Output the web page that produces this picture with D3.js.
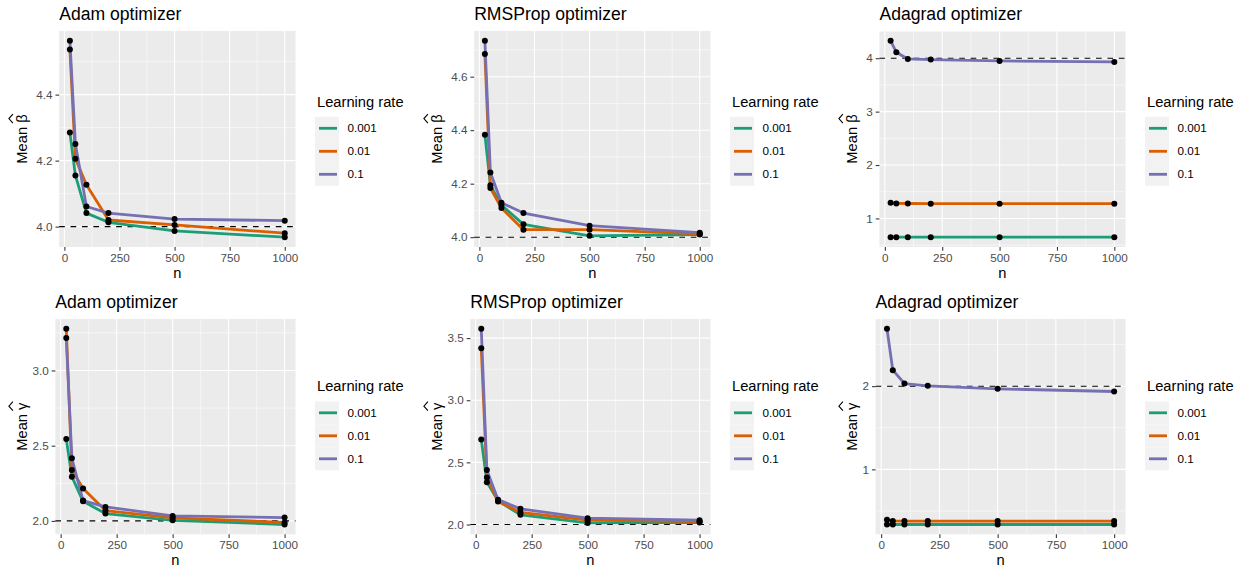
<!DOCTYPE html>
<html lang="en">
<head>
<meta charset="UTF-8" />
<title>Mean estimates by optimizer and learning rate</title>
<script src="https://cdn.jsdelivr.net/npm/d3@7"></script>
<style>
  body { margin: 0; background: #fff; }
  text { font-family: "Liberation Sans", Arial, Helvetica, sans-serif; }
  .panel-bg { fill: #ebebeb; }
  .grid-major { stroke: #fff; stroke-width: 1.07px; }
  .grid-minor { stroke: #fff; stroke-width: 0.53px; }
  .tick line { stroke: #333; stroke-width: 1.07px; }
  .tick text { fill: #4d4d4d; font-size: 11.7px; }
  .truth-line { stroke: #000; stroke-width: 1.07px; stroke-dasharray: 5.7,5.7; }
  .rate-line { fill: none; stroke-width: 2.8px; stroke-linejoin: round; }
  .dot { fill: #000; }
  .plot-title { font-size: 17.6px; fill: #000; }
  .axis-title { font-size: 14.7px; fill: #000; }
  .legend-title { font-size: 14.7px; fill: #000; }
  .legend-label { font-size: 11.7px; fill: #000; }
</style>
</head>
<body>
<script>

// Data...

var nValues = [25, 50, 100, 200, 500, 1000];
var learningRates = ["0.001", "0.01", "0.1"];
var rateColours = ["#1b9e77", "#d95f02", "#7570b3"];

var optimizers = ["Adam optimizer", "RMSProp optimizer", "Adagrad optimizer"];
var paramSymbols = ["\u03b2", "\u03b3"];
var trueValues = [4, 2];

// rows = learning rate (0.001, 0.01, 0.1), columns = n
var adamBeta = [
  [4.285, 4.155, 4.041, 4.013, 3.987, 3.968],
  [4.537, 4.206, 4.127, 4.020, 4.005, 3.980],
  [4.563, 4.250, 4.061, 4.041, 4.023, 4.018]
];
var rmspropBeta = [
  [4.383, 4.194, 4.120, 4.048, 4.005, 4.010],
  [4.685, 4.184, 4.109, 4.028, 4.028, 4.012],
  [4.734, 4.242, 4.129, 4.090, 4.043, 4.017]
];
var adagradBeta = [
  [0.649, 0.649, 0.649, 0.649, 0.649, 0.649],
  [1.294, 1.282, 1.280, 1.276, 1.276, 1.276],
  [4.326, 4.113, 3.987, 3.975, 3.950, 3.930]
];
var adamGamma = [
  [2.544, 2.294, 2.130, 2.049, 2.004, 1.976],
  [3.277, 2.338, 2.216, 2.069, 2.020, 1.990],
  [3.215, 2.416, 2.135, 2.093, 2.033, 2.022]
];
var rmspropGamma = [
  [2.685, 2.341, 2.190, 2.078, 2.013, 2.016],
  [3.419, 2.379, 2.185, 2.097, 2.035, 2.024],
  [3.575, 2.438, 2.200, 2.126, 2.051, 2.035]
];
var adagradGamma = [
  [0.337, 0.337, 0.337, 0.337, 0.337, 0.337],
  [0.394, 0.380, 0.378, 0.378, 0.378, 0.378],
  [2.690, 2.193, 2.032, 2.004, 1.968, 1.936]
];

// Tick labels
var xTicks = ["0", "250", "500", "750", "1000"];
var adamBetaTicks = ["4.0", "4.2", "4.4"];
var rmspropBetaTicks = ["4.0", "4.2", "4.4", "4.6"];
var adagradBetaTicks = ["1", "2", "3", "4"];
var adamGammaTicks = ["2.0", "2.5", "3.0"];
var rmspropGammaTicks = ["2.0", "2.5", "3.0", "3.5"];
var adagradGammaTicks = ["1", "2"];

// Panel table built from the arrays above (row = parameter, col = optimizer)
var panelValues = [[adamBeta, rmspropBeta, adagradBeta], [adamGamma, rmspropGamma, adagradGamma]];
var panelTicks = [[adamBetaTicks, rmspropBetaTicks, adagradBetaTicks],
                  [adamGammaTicks, rmspropGammaTicks, adagradGammaTicks]];


// Layout...

var w = 1245, h = 569;
var colWidth = 415;
var rowOrigin = [0, 284.5];
var plotTop = [31, 319];
var plotBottom = [247, 534.3];
var titleSpace = [36.3, 32.5];   // room taken by the rotated y title
var tickLen = 3.67, labelGap = 2.93;

var svg = d3.select("body").append("svg")
  .attr("width", w)
  .attr("height", h);

// measure tick label width, used to place the panel's left edge
function textWidth(str) {
  var t = svg.append("g").attr("class", "tick").append("text").text(str);
  var wd = t.node().getComputedTextLength();
  t.node().parentNode.remove();
  return wd;
}

function measure(str, size) {
  var t = svg.append("text").style("font-size", size + "px").text(str);
  var wd = t.node().getComputedTextLength();
  t.remove();
  return wd;
}


// Draw each panel
for (var row = 0; row < 2; row++) {
  for (var col = 0; col < 3; col++) {
    drawPanel(row, col);
  }
}

function drawPanel(row, col) {
  var series = panelValues[row][col];
  var ticks = panelTicks[row][col];
  var truth = trueValues[row];
  var ox = col * colWidth;

  var maxLabel = d3.max(ticks, function(s) { return textWidth(s); });
  var left = ox + titleSpace[row] + maxLabel + tickLen + labelGap;
  var right = ox + 295.5;
  var top = plotTop[row], bottom = plotBottom[row];

  // scales with ggplot-style 5% expansion
  var nExt = d3.extent(nValues);
  var nPad = (nExt[1] - nExt[0]) * 0.05;
  var xScale = d3.scaleLinear()
    .domain([nExt[0] - nPad, nExt[1] + nPad])
    .range([left, right]);

  var allVals = d3.merge(series).concat([truth]);
  var yExt = d3.extent(allVals);
  var yPad = (yExt[1] - yExt[0]) * 0.05;
  var yScale = d3.scaleLinear()
    .domain([yExt[0] - yPad, yExt[1] + yPad])
    .range([bottom, top]);

  var g = svg.append("g");

  g.append("rect")
    .attr("class", "panel-bg")
    .attr("x", left).attr("y", top)
    .attr("width", right - left).attr("height", bottom - top);

  // minor grid (midpoints of major breaks, extended one step each side)
  var yMajor = ticks.map(Number);
  var xMajor = xTicks.map(Number);
  function minors(major, domain) {
    var step = major[1] - major[0];
    var out = [];
    for (var v = major[0] - step / 2; v <= major[major.length - 1] + step; v += step) {
      if (v >= domain[0] && v <= domain[1]) out.push(v);
    }
    return out;
  }

  g.selectAll(".gy-minor")
    .data(minors(yMajor, yScale.domain()))
    .enter().append("line")
    .attr("class", "grid-minor")
    .attr("x1", left).attr("x2", right)
    .attr("y1", function(d) { return yScale(d); })
    .attr("y2", function(d) { return yScale(d); });

  g.selectAll(".gx-minor")
    .data(minors(xMajor, xScale.domain()))
    .enter().append("line")
    .attr("class", "grid-minor")
    .attr("y1", top).attr("y2", bottom)
    .attr("x1", function(d) { return xScale(d); })
    .attr("x2", function(d) { return xScale(d); });

  g.selectAll(".gy-major")
    .data(yMajor)
    .enter().append("line")
    .attr("class", "grid-major")
    .attr("x1", left).attr("x2", right)
    .attr("y1", function(d) { return yScale(d); })
    .attr("y2", function(d) { return yScale(d); });

  g.selectAll(".gx-major")
    .data(xMajor)
    .enter().append("line")
    .attr("class", "grid-major")
    .attr("y1", top).attr("y2", bottom)
    .attr("x1", function(d) { return xScale(d); })
    .attr("x2", function(d) { return xScale(d); });

  // axes
  var xAxis = d3.axisBottom(xScale)
    .tickValues(xMajor)
    .tickFormat(function(d, i) { return xTicks[i]; })
    .tickSizeInner(tickLen).tickSizeOuter(0).tickPadding(labelGap);

  var yAxis = d3.axisLeft(yScale)
    .tickValues(yMajor)
    .tickFormat(function(d, i) { return ticks[i]; })
    .tickSizeInner(tickLen).tickSizeOuter(0).tickPadding(labelGap);

  var xg = g.append("g").attr("transform", "translate(0," + bottom + ")").call(xAxis);
  var yg = g.append("g").attr("transform", "translate(" + left + ",0)").call(yAxis);
  xg.select(".domain").remove();
  yg.select(".domain").remove();
  xg.attr("font-family", null).attr("font-size", null);
  yg.attr("font-family", null).attr("font-size", null);

  // true value, dashed
  g.append("line")
    .attr("class", "truth-line")
    .attr("x1", left).attr("x2", right)
    .attr("y1", yScale(truth)).attr("y2", yScale(truth));

  // lines per learning rate
  var line = d3.line()
    .x(function(d, i) { return xScale(nValues[i]); })
    .y(function(d) { return yScale(d); });

  g.selectAll(".rate-line")
    .data(series)
    .enter().append("path")
    .attr("class", "rate-line")
    .attr("stroke", function(d, i) { return rateColours[i]; })
    .attr("d", line);

  // points on top
  series.forEach(function(vals) {
    g.selectAll(null)
      .data(vals)
      .enter().append("circle")
      .attr("class", "dot")
      .attr("cx", function(d, i) { return xScale(nValues[i]); })
      .attr("cy", function(d) { return yScale(d); })
      .attr("r", 3);
  });

  // title
  g.append("text")
    .attr("class", "plot-title")
    .attr("x", left)
    .attr("y", top - 10.8)
    .text(optimizers[col]);

  // x title
  g.append("text")
    .attr("class", "axis-title")
    .attr("text-anchor", "middle")
    .attr("x", (left + right) / 2)
    .attr("y", bottom + 30.5)
    .text("n");

  // y title with hat over the symbol
  var sym = paramSymbols[row];
  var yt = g.append("g")
    .attr("transform", "translate(" + (ox + 26.7) + "," + ((top + bottom) / 2) + ") rotate(-90)");
  yt.append("text")
    .attr("class", "axis-title")
    .attr("text-anchor", "middle")
    .text("Mean  " + sym);
  var full = measure("Mean  " + sym, 14.7);
  var symW = measure(sym, 14.7);
  var hx = full / 2 - symW / 2;
  yt.append("path")
    .attr("d", "M" + (hx - 4.5) + "," + (-13.8) + "L" + hx + "," + (-17.8) + "L" + (hx + 4.5) + "," + (-13.8))
    .attr("fill", "none")
    .attr("stroke", "#000")
    .attr("stroke-width", 1.1);

  // legend
  var lx = ox + 316;
  var ly = rowOrigin[row];
  var lg = g.append("g");
  lg.append("text")
    .attr("class", "legend-title")
    .attr("x", lx + 1)
    .attr("y", ly + 106.5)
    .text("Learning rate");

  learningRates.forEach(function(rate, i) {
    var ky = ly + 116.8 + i * 23;
    lg.append("rect")
      .attr("x", lx - 1).attr("y", ky)
      .attr("width", 24).attr("height", 23)
      .attr("fill", "#f2f2f2");
    lg.append("line")
      .attr("x1", lx + 3).attr("x2", lx + 21)
      .attr("y1", ky + 11.5).attr("y2", ky + 11.5)
      .attr("stroke", rateColours[i])
      .attr("stroke-width", 2.8);
    lg.append("text")
      .attr("class", "legend-label")
      .attr("x", lx + 31.5)
      .attr("y", ky + 11.5)
      .attr("dy", "0.35em")
      .text(rate);
  });
}

</script>
</body>
</html>
